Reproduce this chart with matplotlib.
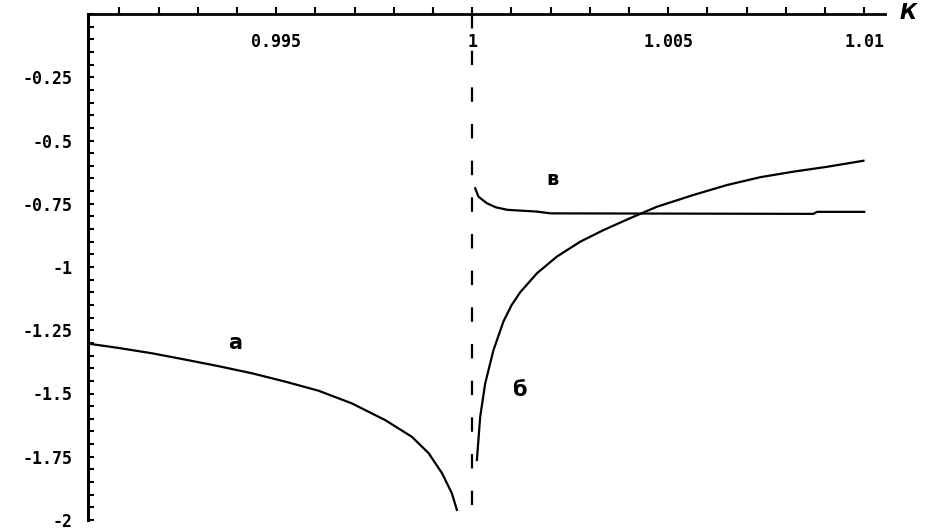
import numpy as np
import matplotlib.pyplot as plt
from matplotlib.ticker import MultipleLocator

# curve a (left branch)
a_x = [0.99017, 0.99098, 0.99183, 0.99268, 0.99353, 0.99438, 0.99523,
       0.99608, 0.99693, 0.99778, 0.99846, 0.99889, 0.99923, 0.99948, 0.99961]
a_y = [-1.302, -1.320, -1.341, -1.366, -1.392, -1.420, -1.453,
       -1.489, -1.539, -1.605, -1.671, -1.736, -1.815, -1.894, -1.960]

# curve б (rising right branch)
b_x = [1.00012, 1.000204, 1.000332, 1.000544, 1.000798, 1.001, 1.001224, 1.00165,
       1.00216, 1.002755, 1.00335, 1.00403, 1.00471, 1.00565, 1.0065,
       1.00735, 1.0082, 1.00905, 1.00998]
b_y = [-1.763, -1.592, -1.460, -1.328, -1.215, -1.152, -1.100, -1.025,
       -0.959, -0.900, -0.854, -0.807, -0.762, -0.715, -0.676,
       -0.645, -0.623, -0.604, -0.580]

# curve в (flat right branch)
v_x = [1.000077, 1.00016, 1.000375, 1.0006, 1.0009, 1.00165, 1.002, 1.0087, 1.0088, 1.01]
v_y = [-0.689, -0.722, -0.748, -0.764, -0.774, -0.781, -0.788, -0.790, -0.782, -0.782]

xticks = [0.995, 1.0, 1.005, 1.01]
xlabels = ['0.995', '1', '1.005', '1.01']
yticks = [-0.25, -0.5, -0.75, -1, -1.25, -1.5, -1.75, -2]
ylabels = ['-0.25', '-0.5', '-0.75', '-1', '-1.25', '-1.5', '-1.75', '-2']

fig = plt.figure(figsize=(9.25, 5.31), dpi=100)
ax = fig.add_axes([88/925, 1 - 520/531, (885-88)/925, (520-14)/531])
ax.set_xlim(0.99020, 1.01053)
ax.set_ylim(-2, 0)

ax.plot(a_x, a_y, c='k', lw=1.6)
ax.plot(b_x, b_y, c='k', lw=1.6)
ax.plot(v_x, v_y, c='k', lw=1.6)
ax.plot([1, 1], [0, -2], c='k', lw=1.6, linestyle=(0, (6.5, 10)))

for s in ['top', 'right']:
    ax.spines[s].set_visible(False)
ax.spines['bottom'].set_position(('data', 0))
ax.spines['bottom'].set_linewidth(2)
ax.spines['left'].set_linewidth(2.2)

ax.set_xticks(xticks)
ax.set_xticklabels(xlabels)
ax.set_yticks(yticks)
ax.set_yticklabels(ylabels)
ax.xaxis.set_minor_locator(MultipleLocator(0.001))
ax.yaxis.set_minor_locator(MultipleLocator(0.05))
ax.tick_params(axis='x', which='both', direction='in', length=5, width=1.5, pad=14)
ax.tick_params(axis='y', which='both', direction='in', length=4, width=1.5, pad=11)
for lab in ax.get_xticklabels() + ax.get_yticklabels():
    lab.set_fontfamily('DejaVu Sans Mono')
    lab.set_fontweight('bold')
    lab.set_fontsize(12)

ax.text(1.0109, 0.005, 'К', fontsize=15, fontweight='bold', style='italic',
        ha='left', va='center', clip_on=False)
ax.text(0.99395, -1.30, 'а', fontsize=15, fontweight='bold', ha='center', va='center')
ax.text(1.0012, -1.485, 'б', fontsize=15, fontweight='bold', ha='center', va='center')
ax.text(1.00204, -0.655, 'в', fontsize=14, fontweight='bold', ha='center', va='center')

fig.savefig('out.png', dpi=100)
